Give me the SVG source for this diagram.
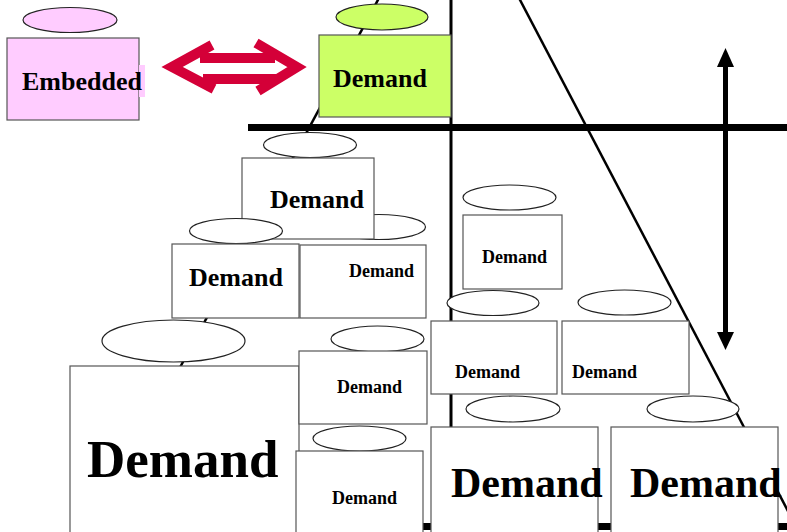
<svg xmlns="http://www.w3.org/2000/svg" width="787" height="532" viewBox="0 0 787 532">
<style>
.box{fill:#fff;stroke:#555;stroke-width:1.2}
.ell{fill:#fff;stroke:#222;stroke-width:1.2}
.pink{fill:#FFCCFF}
.green{fill:#CCFF66}
.t{font-family:"Liberation Serif","Times New Roman",serif;font-weight:bold;fill:#000}
.ln{stroke:#000;fill:none}
.red{stroke:#D40038;stroke-width:10;fill:none;stroke-linejoin:miter;stroke-linecap:butt}
</style>
<rect width="787" height="532" fill="#fff"/>
<g id="connectors">
  <line class="ln" x1="379" y1="-2" x2="170" y2="386" stroke-width="2.5"/>
  <line class="ln" x1="519" y1="-2" x2="800" y2="534" stroke-width="2.5"/>
  <line class="ln" x1="451" y1="0" x2="451" y2="532" stroke-width="3"/>
  <rect x="248" y="124" width="539" height="7" fill="#000"/>
  <rect x="250" y="523" width="537" height="7" fill="#000"/>
  <g id="vertical-arrow">
    <rect x="723" y="64" width="5" height="271" fill="#000"/>
    <polygon points="725.5,48 717,67 734,67" fill="#000"/>
    <polygon points="725.5,350 717,332 734,332" fill="#000"/>
  </g>
  <g id="red-double-arrow">
    <path class="red" d="M212,45 L172,67 L214,89"/>
    <path class="red" d="M200,58 L275,58"/>
    <path class="red" d="M203,79 L277,79"/>
    <path class="red" d="M256,43 L297,67 L258,91"/>
  </g>
</g>
<g id="node-embedded">
  <ellipse class="ell pink" cx="70" cy="20" rx="47" ry="12.5"/>
  <rect class="box pink" x="7" y="38" width="132" height="82"/>
  <rect x="139" y="65" width="6" height="32" fill="#FFCCFF"/>
  <text class="t" x="22" y="90" font-size="26">Embedded</text>
</g>
<g id="node-demand-green">
  <ellipse class="ell green" cx="382" cy="17" rx="46" ry="13"/>
  <rect class="box green" x="319" y="35" width="132" height="82"/>
  <text class="t" x="333" y="87" font-size="26">Demand</text>
</g>
<g id="node-mid-right">
  <ellipse class="ell" cx="379" cy="227" rx="46.5" ry="12.5"/>
  <rect class="box" x="300" y="245" width="126" height="73"/>
  <text class="t" x="349" y="277" font-size="18">Demand</text>
</g>
<g id="node-top">
  <ellipse class="ell" cx="310" cy="145" rx="46.5" ry="12.5"/>
  <rect class="box" x="242" y="158" width="132" height="81"/>
  <text class="t" x="270" y="208" font-size="26">Demand</text>
</g>
<g id="node-mid-left">
  <ellipse class="ell" cx="236" cy="231" rx="46.5" ry="12.5"/>
  <rect class="box" x="172" y="244" width="127" height="74"/>
  <text class="t" x="189" y="286" font-size="26">Demand</text>
</g>
<g id="node-col-top">
  <ellipse class="ell" cx="509.5" cy="197.5" rx="46.5" ry="12.5"/>
  <rect class="box" x="463" y="215" width="99" height="74"/>
  <text class="t" x="482" y="263" font-size="18">Demand</text>
</g>
<g id="node-col-left">
  <ellipse class="ell" cx="493" cy="303" rx="46" ry="12.5"/>
  <rect class="box" x="431" y="321" width="126" height="73"/>
  <text class="t" x="455" y="378" font-size="18">Demand</text>
</g>
<g id="node-col-right">
  <ellipse class="ell" cx="624.5" cy="302.5" rx="46.5" ry="12.5"/>
  <rect class="box" x="562" y="321" width="127" height="73"/>
  <text class="t" x="572" y="378" font-size="18">Demand</text>
</g>
<g id="node-big">
  <ellipse class="ell" cx="173.5" cy="341" rx="71.5" ry="21"/>
  <rect class="box" x="70" y="366" width="229" height="180"/>
  <text class="t" x="87" y="477" font-size="53">Demand</text>
</g>
<g id="node-small-upper">
  <ellipse class="ell" cx="377.5" cy="339" rx="46.5" ry="13"/>
  <rect class="box" x="299" y="351" width="128" height="73"/>
  <text class="t" x="337" y="393" font-size="18">Demand</text>
</g>
<g id="node-small-lower">
  <ellipse class="ell" cx="359.5" cy="438.5" rx="46.5" ry="12.5"/>
  <rect class="box" x="296" y="451" width="127" height="95"/>
  <text class="t" x="332" y="504" font-size="18">Demand</text>
</g>
<g id="node-bottom-left">
  <ellipse class="ell" cx="513" cy="409" rx="47" ry="13"/>
  <rect class="box" x="431" y="427" width="167" height="120"/>
  <text class="t" x="451" y="497" font-size="42">Demand</text>
</g>
<g id="node-bottom-right">
  <ellipse class="ell" cx="693" cy="409" rx="46" ry="13"/>
  <rect class="box" x="611" y="427" width="167" height="120"/>
  <text class="t" x="630" y="497" font-size="42">Demand</text>
</g>
</svg>
